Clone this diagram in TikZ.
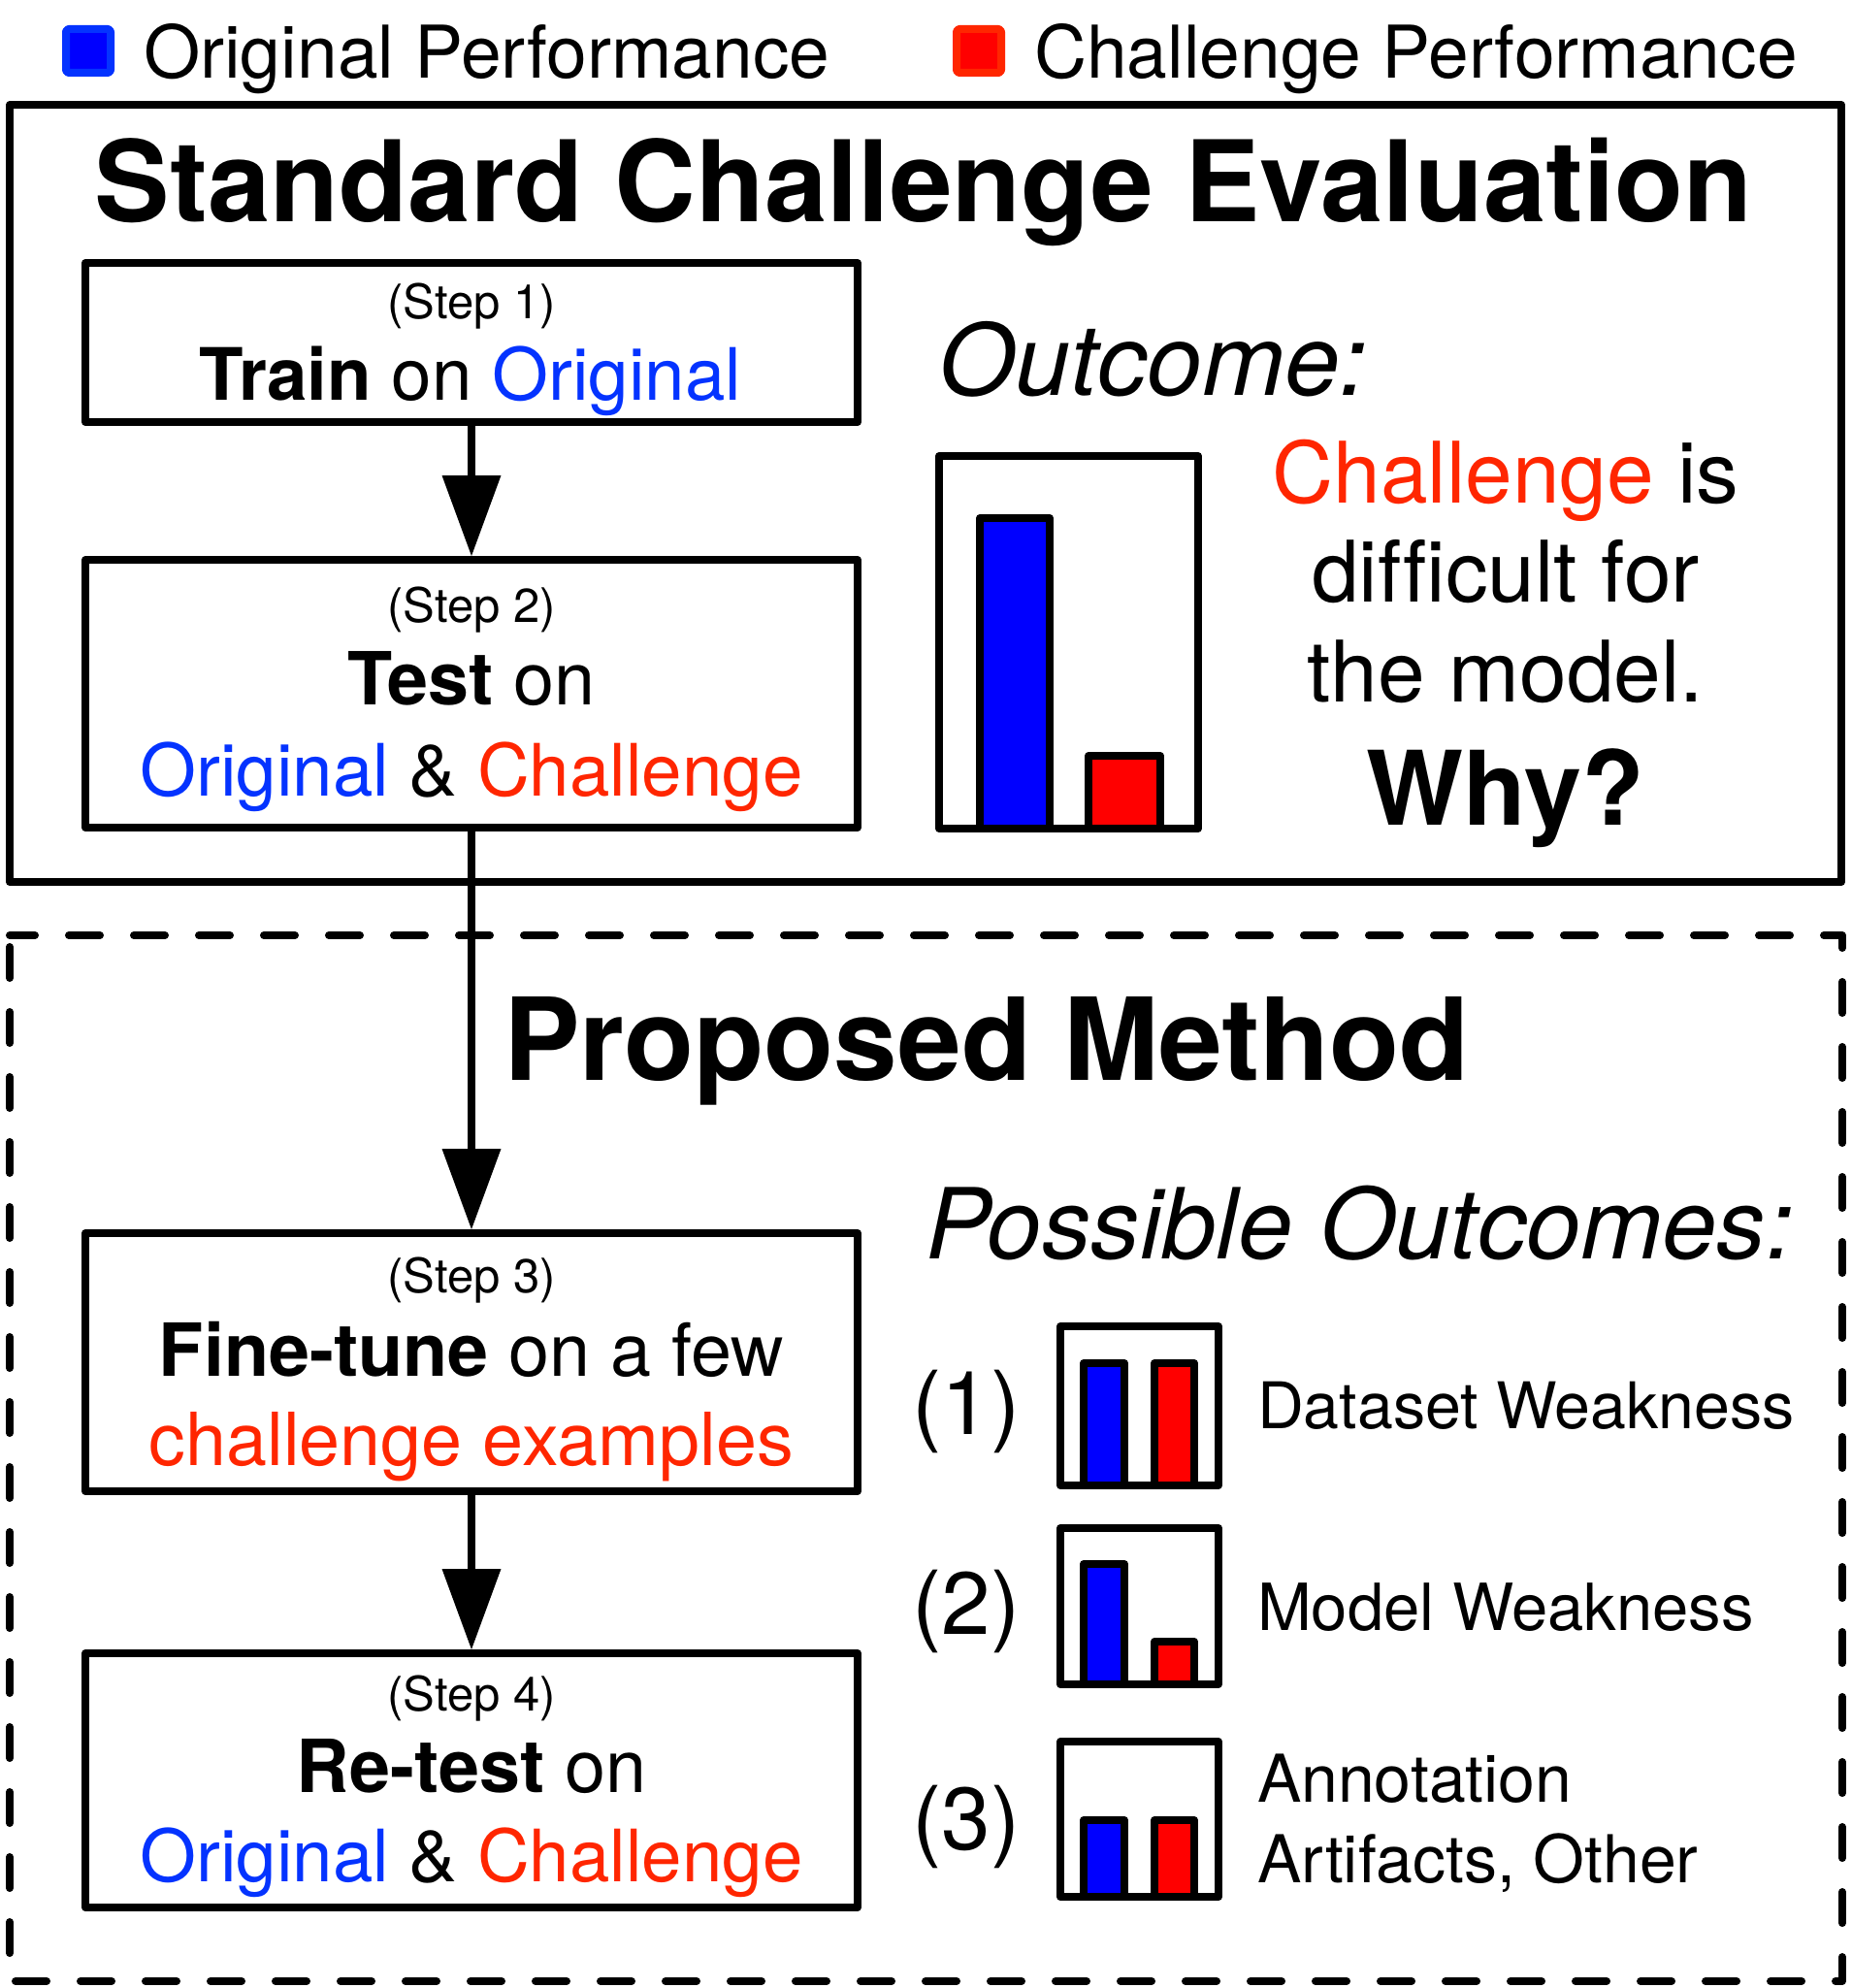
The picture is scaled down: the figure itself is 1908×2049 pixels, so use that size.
\documentclass[tikz,border=0pt]{standalone}
\usepackage{fontspec}
\setmainfont{TeX Gyre Heros}
\usetikzlibrary{arrows.meta}
\definecolor{kblue}{RGB}{4,51,255}
\definecolor{kred}{RGB}{255,38,0}
\definecolor{barblue}{RGB}{0,0,255}
\definecolor{barred}{RGB}{255,0,0}
\newcommand{\fsz}[1]{\fontsize{#1}{#1}\selectfont}
\begin{document}
\begin{tikzpicture}[x=1pt,y=-1pt,line width=8pt,line join=round,
  stepbox/.style={draw,line width=8pt,minimum width=796pt,inner sep=0pt},
  txt/.style={anchor=base,inner sep=0pt,outer sep=0pt},
  lefttxt/.style={anchor=base west,inner sep=0pt,outer sep=0pt},
  arr/.style={-{Triangle[length=83pt,width=61pt,line width=0pt]},line width=8pt},
  chartbox/.style={draw,line width=8pt,inner sep=0pt},
  barB/.style={draw=black,fill=barblue,line width=8pt},
  barR/.style={draw=black,fill=barred,line width=8pt},
  steplbl/.style={txt,font=\fsz{49}},
  mainlbl/.style={txt,font=\fsz{75.5}},
  mainlblb/.style={txt,font=\fsz{74.5}}]
\useasboundingbox (0,0) rectangle (1908,2049);
\fill[white] (0,0) rectangle (1908,2049);

% legend
\draw[draw=kblue,fill=barblue,rounded corners=3pt] (68,30) rectangle (114,75);
\node[lefttxt,font=\fsz{75}] (legO) at (148,81) {Original Performance};
\draw[draw=kred,fill=barred,rounded corners=3pt] (986,30) rectangle (1032,75);
\node[lefttxt,font=\fsz{75}] (legC) at (1066,81) {Challenge Performance};

% outer boxes
\draw (10,108) rectangle (1898,909);
\draw[dashed,dash pattern=on 32pt off 35pt,line cap=round,dash phase=6pt]
  (10,964) -- (1899,964) -- (1899,2042) -- (10,2042) -- cycle;

% titles
\node[txt,font=\bfseries\fsz{116}] (title1) at (952,229) {Standard Challenge Evaluation};
\node[txt,font=\bfseries\fsz{118}] (title2) at (1017,1113) {Proposed Method};

% step boxes
\node[stepbox,minimum height=164pt] (s1) at (486,353) {};
\node[stepbox,minimum height=276pt] (s2) at (486,715) {};
\node[stepbox,minimum height=266pt] (s3) at (486,1404) {};
\node[stepbox,minimum height=262pt] (s4) at (486,1835) {};

\node[steplbl] (s1a) at (486,328) {(Step 1)};
\node[mainlblb] (s1b) at (485,412) {\textbf{Train} on \textcolor{kblue}{Original}};

\node[steplbl] (s2a) at (486,641) {(Step 2)};
\node[mainlbl] (s2b) at (486,726) {\textbf{Test} on};
\node[mainlblb] (s2c) at (486,820) {\textcolor{kblue}{Original} \& \textcolor{kred}{Challenge}};

\node[steplbl] (s3a) at (486,1332) {(Step 3)};
\node[mainlbl] (s3b) at (486,1418) {\textbf{Fine-tune} on a few};
\node[mainlbl] (s3c) at (486,1510) {\textcolor{kred}{challenge examples}};

\node[steplbl] (s4a) at (486,1763) {(Step 4)};
\node[mainlbl] (s4b) at (486,1847) {\textbf{Re-test} on};
\node[mainlblb] (s4c) at (486,1939) {\textcolor{kblue}{Original} \& \textcolor{kred}{Challenge}};

% arrows
\draw[arr] (s1.south) -- (s2.north);
\draw[arr] (s2.south) -- (s3.north);
\draw[arr] (s3.south) -- (s4.north);

% outcome
\node[lefttxt,font=\itshape\fsz{102}] (outc) at (967,407) {Outcome:};
\node[chartbox,minimum width=267pt,minimum height=384pt] (chA) at (1101.5,662) {};
\draw[barB] (1010,854) rectangle (1082,534);
\draw[barR] (1122,854) rectangle (1196,779);
\node[txt,font=\fsz{87.5}] (o1) at (1552,518) {\textcolor{kred}{Challenge} is};
\node[txt,font=\fsz{87.5}\addfontfeatures{Ligatures=NoCommon}] (o2) at (1552,620) {difficult for};
\node[txt,font=\fsz{87.5}] (o3) at (1552,723) {the model.};
\node[txt,font=\bfseries\fsz{106}] (o4) at (1552,850) {Why?};

% possible outcomes
\node[lefttxt,font=\itshape\fsz{101}] (poss) at (954,1297) {Possible Outcomes:};

\node[chartbox,minimum width=163pt,minimum height=164pt] (c1) at (1174.5,1449) {};
\draw[barB] (1117,1531) rectangle (1159,1405);
\draw[barR] (1190,1531) rectangle (1231,1405);
\node[txt,font=\fsz{91}] (n1) at (996,1478) {(1)};
\node[lefttxt,font=\fsz{66.3}] (d1) at (1296,1472) {Dataset Weakness};

\node[chartbox,minimum width=163pt,minimum height=161pt] (c2) at (1174.5,1655.5) {};
\draw[barB] (1117,1736) rectangle (1159,1612);
\draw[barR] (1190,1736) rectangle (1231,1692);
\node[txt,font=\fsz{91}] (n2) at (996,1684) {(2)};
\node[lefttxt,font=\fsz{67}] (d2) at (1296,1680) {Model Weakness};

\node[chartbox,minimum width=163pt,minimum height=160pt] (c3) at (1174.5,1875) {};
\draw[barB] (1117,1955) rectangle (1159,1876);
\draw[barR] (1190,1955) rectangle (1231,1876);
\node[txt,font=\fsz{91}] (n3) at (996,1906) {(3)};
\node[lefttxt,font=\fsz{68}] (d3a) at (1296,1857) {Annotation};
\node[lefttxt,font=\fsz{68}] (d3b) at (1296,1940) {Artifacts, Other};
\end{tikzpicture}
\end{document}
